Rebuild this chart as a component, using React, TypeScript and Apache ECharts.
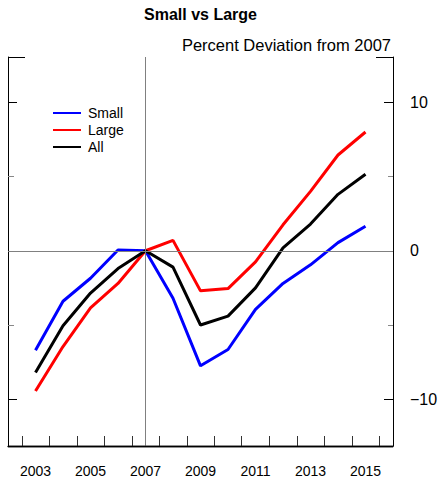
import React, { useEffect, useRef } from "react";
import * as echarts from "echarts";

const years = [2003, 2004, 2005, 2006, 2007, 2008, 2009, 2010, 2011, 2012, 2013, 2014, 2015];
const small = [-6.7, -3.4, -1.85, 0.05, 0, -3.2, -7.75, -6.65, -3.95, -2.2, -0.95, 0.55, 1.65];
const large = [-9.45, -6.45, -3.85, -2.2, 0, 0.7, -2.7, -2.55, -0.75, 1.75, 4.0, 6.45, 8.0];
const all = [-8.2, -5.05, -2.85, -1.2, 0, -1.1, -5.0, -4.4, -2.5, 0.2, 1.8, 3.8, 5.15];

const xMin = 2002;
const xMax = 2016;
const yMin = -13.15;
const yMax = 13.05;
const xTickValues = [2002.5, 2003.5, 2004.5, 2005.5, 2006.5, 2007.5, 2008.5, 2009.5, 2010.5, 2011.5, 2012.5, 2013.5, 2014.5, 2015.5];
const xLabelValues = [2003, 2005, 2007, 2009, 2011, 2013, 2015];
const yMajor = [-10, 0, 10];
const yMinor = [-5, 5];
const baseYear = 2007;

const FONT = "'Liberation Sans', Arial, Helvetica, sans-serif";

export default function App() {
  const ref = useRef<HTMLDivElement>(null);
  useEffect(() => {
    if (!ref.current) return;
    const chart = echarts.init(ref.current, undefined, { renderer: "svg" });
    const pair = (arr: number[]) => years.map((y, i) => [y, arr[i]]);
    const yBase = { type: "value", min: yMin, max: yMax, splitLine: { show: false } };
    chart.setOption({
      animation: false,
      backgroundColor: "#fff",
      grid: { left: 8, right: 48, top: 57, bottom: 34 },
      graphic: [
        {
          type: "text", x: 200.5, y: 14,
          style: { text: "Small vs Large", font: `bold 16px ${FONT}`, textAlign: "center", textVerticalAlign: "middle", fill: "#000" },
        },
        {
          type: "text", x: 391, y: 45,
          style: { text: "Percent Deviation from 2007", font: `16.5px ${FONT}`, textAlign: "right", textVerticalAlign: "middle", fill: "#000" },
        },
      ],
      legend: {
        orient: "vertical",
        left: 48,
        top: 101,
        itemWidth: 28,
        itemHeight: 2,
        itemGap: 3,
        icon: "rect",
        data: ["Small", "Large", "All"],
        textStyle: { fontFamily: FONT, fontSize: 14, color: "#000", lineHeight: 14, padding: [0, 0, 0, 2] },
      },
      xAxis: [
        {
          type: "value",
          min: xMin,
          max: xMax,
          position: "bottom",
          splitLine: { show: false },
          axisLine: { show: true, onZero: false, lineStyle: { color: "#000", width: 1.3 } },
          axisTick: { show: true, inside: true, length: 10, customValues: xTickValues, lineStyle: { color: "#333", width: 1 } },
          axisLabel: { customValues: xLabelValues, formatter: (v: number) => String(v), fontFamily: FONT, fontSize: 14, color: "#000", margin: 18 },
        },
      ],
      yAxis: [
        {
          ...yBase, position: "left",
          axisLine: { show: true, onZero: false, lineStyle: { color: "#000", width: 1 } },
          axisTick: { show: true, inside: true, length: 9, customValues: yMajor, lineStyle: { color: "#000" } },
          axisLabel: { show: false },
        },
        {
          ...yBase, position: "left",
          axisLine: { show: false, onZero: false },
          axisTick: { show: true, inside: true, length: 6, customValues: yMinor, lineStyle: { color: "#888" } },
          axisLabel: { show: false },
        },
        {
          ...yBase, position: "left",
          axisLine: { show: false, onZero: false },
          axisTick: { show: true, inside: true, length: 17, customValues: [yMax], lineStyle: { color: "#000" } },
          axisLabel: { show: false },
        },
        {
          ...yBase, position: "right",
          axisLine: { show: true, onZero: false, lineStyle: { color: "#000", width: 1 } },
          axisTick: { show: true, inside: true, length: 9, customValues: yMajor, lineStyle: { color: "#000" } },
          axisLabel: {
            customValues: yMajor,
            formatter: (v: number) => String(v).replace("-", "\u2212"),
            fontFamily: FONT, fontSize: 16, color: "#000", margin: 17,
          },
        },
        {
          ...yBase, position: "right",
          axisLine: { show: false, onZero: false },
          axisTick: { show: true, inside: true, length: 5, customValues: yMinor, lineStyle: { color: "#888" } },
          axisLabel: { show: false },
        },
        {
          ...yBase, position: "right",
          axisLine: { show: false, onZero: false },
          axisTick: { show: true, inside: true, length: 17, customValues: [yMax], lineStyle: { color: "#000" } },
          axisLabel: { show: false },
        },
      ],
      series: [
        {
          name: "ref",
          type: "line",
          data: [],
          z: 1,
          silent: true,
          markLine: {
            silent: true,
            symbol: "none",
            label: { show: false },
            lineStyle: { color: "#808080", width: 1, type: "solid" },
            data: [{ yAxis: 0 }, { xAxis: baseYear }, { yAxis: yMin, lineStyle: { color: "#000", width: 1.3 } }],
          },
        },
        { name: "Small", type: "line", data: pair(small), showSymbol: false, z: 3, color: "#0000ff", lineStyle: { width: 3, color: "#0000ff" } },
        { name: "Large", type: "line", data: pair(large), showSymbol: false, z: 3, color: "#ff0000", lineStyle: { width: 3, color: "#ff0000" } },
        { name: "All", type: "line", data: pair(all), showSymbol: false, z: 3, color: "#000000", lineStyle: { width: 3, color: "#000000" } },
      ],
    });
    return () => chart.dispose();
  }, []);
  return <div ref={ref} style={{ position: "fixed", left: 0, top: 0, width: 441, height: 480 }} />;
}
